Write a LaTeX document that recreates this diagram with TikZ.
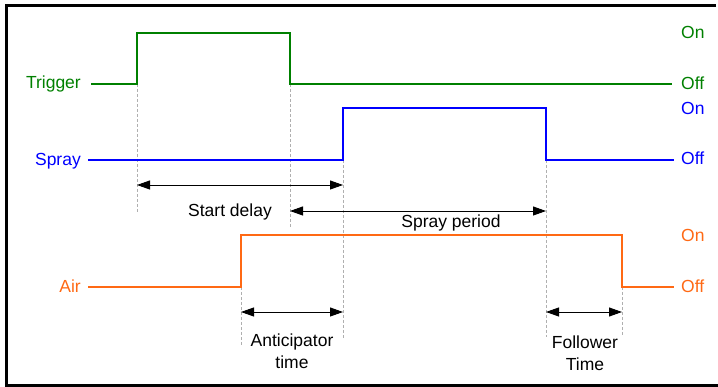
\documentclass[tikz,border=0pt]{standalone}
\usepackage{fontspec}
\setmainfont{Liberation Sans}
\usepackage{tikz}
\usetikzlibrary{arrows.meta,positioning}
\usepackage{xcolor}
\definecolor{trggreen}{RGB}{0,128,0}
\definecolor{sprblue}{RGB}{0,0,255}
\definecolor{airorange}{RGB}{255,105,20}
\definecolor{guidegrey}{RGB}{175,175,175}

\begin{document}
\begin{tikzpicture}[x=1pt, y=-1pt,
    font=\fontsize{17.5}{22}\selectfont,
    signal/.style={line width=2pt},
    guide/.style={guidegrey, line width=0.8pt, dash pattern=on 3pt off 2pt},
    span/.style={{Triangle[length=13pt,width=9pt]}-{Triangle[length=13pt,width=9pt]}, black, line width=0.9pt},
    lbl/.style={anchor=base east, inner sep=0pt},
    state/.style={anchor=base west, inner sep=0pt},
    note/.style={anchor=north, inner sep=0pt, align=center}]

    \useasboundingbox (0,0) rectangle (718,387);
    \draw[line width=3pt] (716,5.5) -- (6,5.5) -- (6,385.5) -- (718,385.5);

    \node[lbl, trggreen] (trig) at (81,89) {Trigger};
    \node[state, trggreen] (trigon) at (681,39) {On};
    \node[state, trggreen] (trigoff) at (681,90) {Off};
    \coordinate (trigst) at (91,84);
    \coordinate (trigup) at (137,84);
    \coordinate (trigdn) at (290,84);
    \coordinate (trigend) at (672,84);

    \node[lbl, sprblue] (spray) at (81,166) {Spray};
    \node[state, sprblue] (sprayon) at (681,115) {On};
    \node[state, sprblue] (sprayoff) at (681,165) {Off};
    \coordinate (sprst) at (88,160);
    \coordinate (sprup) at (343,160);
    \coordinate (sprdn) at (546,160);
    \coordinate (sprend) at (674,160);

    \node[lbl, airorange] (air) at (81,293) {Air};
    \node[state, airorange] (airon) at (681,242) {On};
    \node[state, airorange] (airoff) at (681,293) {Off};
    \coordinate (airst) at (88,287);
    \coordinate (airup) at (241,287);
    \coordinate (airdn) at (622,287);
    \coordinate (airend) at (674,287);

    \foreach \c/\l in {trigup/128, trigdn/143, sprup/178, sprdn/177, airup/59, airdn/48} {
        \draw[guide] (\c) -- ++(0,\l);
    }

    \draw[signal, trggreen] (trigst) -- (trigup) -- ++(0,-51) -| (trigdn) -- (trigend);
    \draw[signal, sprblue] (sprst) -- (sprup) -- ++(0,-52) -| (sprdn) -- (sprend);
    \draw[signal, airorange] (airst) -- (airup) -- ++(0,-52) -| (airdn) -- (airend);

    \coordinate (sd1) at (137,185);
    \coordinate (sd2) at (343,185);
    \coordinate (sp1) at (290,211);
    \coordinate (sp2) at (546,211);
    \coordinate (an1) at (241,312);
    \coordinate (an2) at (343,312);
    \coordinate (fo1) at (546,312);
    \coordinate (fo2) at (622,312);
    \draw[span] (sd1) -- (sd2);
    \draw[span] (sp1) -- (sp2);
    \draw[span] (an1) -- (an2);
    \draw[span] (fo1) -- (fo2);

    \node[anchor=base, inner sep=0pt] (sdlbl) at (230,217) {Start delay};
    \node[anchor=base, inner sep=0pt] (splbl) at (451,228) {Spray period};
    \node[note] (anlbl) at (292,334) {Anticipator\\time};
    \node[note] (folbl) at (585,336) {Follower\\Time};
\end{tikzpicture}
\end{document}
